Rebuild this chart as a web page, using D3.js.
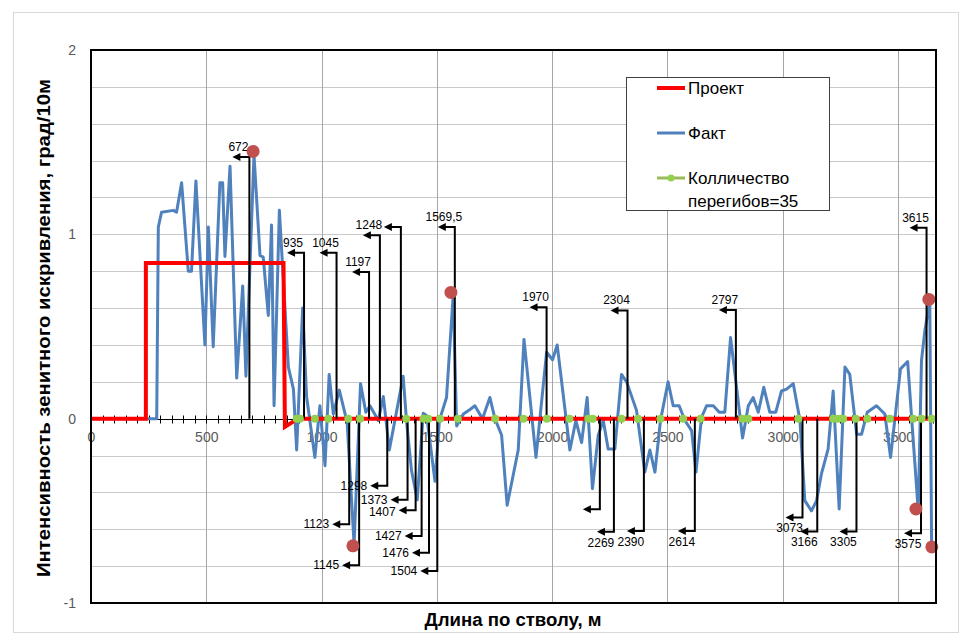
<!DOCTYPE html>
<html>
<head>
<meta charset="utf-8">
<script src="https://cdn.jsdelivr.net/npm/d3@7"></script>
<style>
body { margin: 0; background: #fff; }
text { font-family: "Liberation Sans", Arial, sans-serif; }
</style>
</head>
<body>
<svg id="chart" width="970" height="641"></svg>
<script>
'use strict';

// Проект (design curve)
const projDepth = [0, 238, 238, 835, 841, 897, 3665];
const projValue = [0, 0, 0.845, 0.845, -0.045, 0, 0];

// Факт (measured curve)
const factDepth = [0, 285, 292, 306, 357, 371, 393, 422, 436, 455, 494, 509, 530, 559, 571, 581, 603, 632, 658, 672,
	707, 733, 747, 769, 783, 794, 817, 856, 878, 892, 918, 935, 971, 993, 1015, 1033, 1051, 1077, 1111, 1141,
	1169, 1192, 1210, 1246, 1268, 1294, 1354, 1369, 1390, 1415, 1441, 1456, 1492, 1511, 1542, 1571, 1586, 1615, 1644, 1665,
	1698, 1730, 1752, 1781, 1805, 1853, 1878, 1930, 1976, 2002, 2022, 2077, 2103, 2128, 2152, 2175, 2200, 2222, 2243, 2272,
	2301, 2323, 2366, 2402, 2424, 2446, 2470, 2503, 2525, 2551, 2576, 2605, 2624, 2648, 2670, 2699, 2725, 2749, 2774, 2800,
	2826, 2851, 2872, 2894, 2918, 2944, 2970, 2995, 3017, 3046, 3075, 3096, 3125, 3147, 3168, 3197, 3219, 3245, 3270, 3291,
	3321, 3342, 3367, 3407, 3443, 3468, 3511, 3542, 3588, 3602, 3617, 3638, 3646];
const factValue = [0, 0, 1.04, 1.12, 1.13, 1.12, 1.28, 0.80, 0.80, 1.29, 0.40, 1.04, 0.39, 1.28, 1.28, 0.88, 1.37, 0.22, 0.72, 0.23,
	1.43, 0.885, 0.877, 0.56, 1.05, 0.07, 1.13, 0.28, 0.16, -0.17, 0.60, 0.12, -0.21, 0.07, -0.255, 0.24, 0.025, 0.155, -0.02, -0.68,
	0.19, 0.035, 0.07, -0.01, 0.12, -0.17, 0.23, -0.02, -0.28, -0.44, 0.03, 0.016, -0.34, -0.01, 0.115, 0.67, -0.04, 0.025, 0.05, 0.07,
	0, 0.115, 0, -0.09, -0.47, -0.17, 0.43, -0.21, 0.36, 0.32, 0.40, -0.17, -0.01, -0.13, 0.115, -0.38, -0.09, -0.01, -0.165, -0.165,
	0.24, 0.20, 0.045, -0.29, -0.17, -0.29, -0.01, 0.20, 0.07, 0.07, -0.01, -0.065, -0.29, 0.007, 0.07, 0.07, 0.035, 0.035, 0.44, 0.17,
	-0.105, 0.07, 0.115, 0.035, 0.17, 0.035, 0.035, 0.15, 0.16, 0.19, -0.01, -0.445, -0.5, -0.445, -0.30, -0.165, 0.15, -0.49, 0.28, 0.24,
	-0.085, -0.085, 0.035, 0.07, 0.025, -0.21, 0.27, 0.31, -0.5, 0.315, 0.48, 0.64, -0.70];

// Колличество перегибов (inflection points on zero line)
const bendDepth = [892, 906, 971, 1029, 1116, 1167, 1367, 1442, 1463, 1514, 1591, 1753, 1876, 1977, 2075, 2157, 2176,
	2301, 2373, 2470, 2568, 2644, 2826, 2851, 3068, 3219, 3241, 3262, 3317, 3367, 3465, 3566, 3602, 3646];

// extremes marked with red dots
const extremeDepth = [703, 1561, 1136, 3578, 3634, 3647];
const extremeValue = [1.45, 0.685, -0.69, -0.49, 0.647, -0.696];

// callouts above the zero line
const upDepth = [687, 924, 1065, 1206, 1253, 1344, 1578, 1976, 2327, 2797, 3624];
const upLevel = [1.42, 0.90, 0.90, 0.795, 0.995, 1.04, 1.04, 0.605, 0.587, 0.59, 1.036];
const upLabel = ['672', '935', '1045', '1197', '1248', '', '1569,5', '1970', '2304', '2797', '3615'];

// callouts below the zero line
const downDepth = [1120, 1163, 1285, 1373, 1408, 1434, 1466, 1502, 2207, 2268, 2398, 2619, 3086, 3150, 3320, 3600];
const downLevel = [-0.573, -0.795, -0.364, -0.44, -0.497, -0.636, -0.727, -0.826, -0.491, -0.614, -0.609, -0.609, -0.536, -0.612, -0.612, -0.622];
const downLabel = ['1123', '1145', '1298', '1373', '1407', '1427', '1476', '1504', '', '2269', '2390', '2614', '3073', '3166', '3305', '3575'];

const xTicks = [0, 500, 1000, 1500, 2000, 2500, 3000, 3500];
const yTicks = [-1, 0, 1, 2];
const legendNames = ['Проект', 'Факт', 'Колличество', 'перегибов=35'];

const plot = {left: 91, top: 50, right: 936, bottom: 603};
const svg = d3.select('#chart');

const x = d3.scaleLinear().domain([0, 3665]).range([plot.left, plot.right]);
const y = d3.scaleLinear().domain([-1, 2]).range([plot.bottom, plot.top]);

// outer chart frame
svg.append('rect')
	.attr('x', 13.5).attr('y', 12.5)
	.attr('width', 945).attr('height', 620)
	.attr('fill', '#fff')
	.attr('stroke', '#d9d9d9');

// grid
svg.append('g').selectAll('line')
	.data(d3.range(-5, 11).map(i => i / 5))
	.enter().append('line')
		.attr('x1', plot.left).attr('x2', plot.right)
		.attr('y1', d => Math.round(y(d)) + 0.5)
		.attr('y2', d => Math.round(y(d)) + 0.5)
		.attr('stroke', '#c9c9c9');
svg.append('g').selectAll('line')
	.data(xTicks.slice(1))
	.enter().append('line')
		.attr('x1', d => Math.round(x(d)) + 0.5)
		.attr('x2', d => Math.round(x(d)) + 0.5)
		.attr('y1', plot.top).attr('y2', plot.bottom)
		.attr('stroke', '#a6a6a6');

// x axis along zero line
const y0 = Math.round(y(0)) + 0.5;
svg.append('line')
	.attr('x1', plot.left).attr('x2', plot.right)
	.attr('y1', y0).attr('y2', y0)
	.attr('stroke', '#000');
svg.append('g').selectAll('line')
	.data(d3.range(0, 3665, 50))
	.enter().append('line')
		.attr('x1', d => Math.round(x(d)) + 0.5)
		.attr('x2', d => Math.round(x(d)) + 0.5)
		.attr('y1', y0 - 4).attr('y2', y0 + 4)
		.attr('stroke', '#000');

const xAxis = svg.append('g')
	.attr('transform', `translate(0,${y0 + 10})`)
	.call(d3.axisBottom(x).tickValues(xTicks).tickSize(0).tickPadding(0).tickFormat(d => String(d)));
xAxis.select('.domain').remove();
xAxis.selectAll('text')
	.attr('fill', '#595959')
	.style('font-size', '14px')
	.attr('dy', '0.9em');

const yAxis = svg.append('g')
	.attr('transform', `translate(${plot.left - 15},0)`)
	.call(d3.axisLeft(y).tickValues(yTicks).tickSize(0).tickPadding(0).tickFormat(d => String(d)));
yAxis.select('.domain').remove();
yAxis.selectAll('text')
	.attr('fill', '#595959')
	.style('font-size', '14px');

// series
const line = d3.line()
	.x(d => x(d[0]))
	.y(d => y(d[1]));

svg.append('path')
	.datum(d3.zip(factDepth, factValue))
	.attr('d', line)
	.attr('fill', 'none')
	.attr('stroke', '#4f81bd')
	.attr('stroke-width', 3)
	.attr('stroke-linejoin', 'round');

svg.append('path')
	.datum(d3.zip(projDepth, projValue))
	.attr('d', line)
	.attr('fill', 'none')
	.attr('stroke', '#ff0000')
	.attr('stroke-width', 4);

// callouts
const ARROW = 17;
const placed = [];
function overlaps(b) {
	return placed.some(p => b.x < p.x + p.width && p.x < b.x + b.width && b.y < p.y + p.height && p.y < b.y + b.height);
}
function callout(g, depth, level, label, below) {
	const lx = x(depth);
	const ay = y(level);
	const tip = lx - ARROW;
	g.append('path')
		.attr('d', `M${lx},${y(0)}V${ay}H${tip + 6}`)
		.attr('fill', 'none')
		.attr('stroke', '#000')
		.attr('stroke-width', 2);
	g.append('path')
		.attr('d', `M${tip},${ay}L${tip + 8},${ay - 4}L${tip + 8},${ay + 4}Z`)
		.attr('fill', '#000');
	if (!label) {
		return;
	}
	let t = g.append('text')
		.text(label)
		.style('font-size', '12px')
		.attr('fill', '#000');
	if (!below) {
		t.attr('x', lx - 11).attr('y', ay - 6).attr('text-anchor', 'middle');
	}
	else if (depth < 2000) {
		t.attr('x', tip - 3).attr('y', ay + 4).attr('text-anchor', 'end');
	}
	else {
		t.attr('x', lx - 13).attr('y', ay + 15).attr('text-anchor', 'middle');
	}
	// push a label down until it is clear of the ones already placed
	let box = t.node().getBBox();
	let shift = 0;
	while (overlaps({x: box.x, y: box.y + shift, width: box.width, height: box.height - 2}) && shift < 30) {
		shift += 1;
	}
	if (shift) {
		t.attr('y', +t.attr('y') + shift);
	}
	placed.push({x: box.x, y: box.y + shift, width: box.width, height: box.height - 2});
}
const calloutG = svg.append('g');
upDepth.forEach((d, i) => callout(calloutG, d, upLevel[i], upLabel[i], false));
d3.range(downDepth.length)
	.sort((a, b) => downLevel[b] - downLevel[a])
	.forEach(i => callout(calloutG, downDepth[i], downLevel[i], downLabel[i], true));

// inflection markers
svg.append('g').selectAll('circle')
	.data(bendDepth)
	.enter().append('circle')
		.attr('cx', d => x(d))
		.attr('cy', y(0))
		.attr('r', 4)
		.attr('fill', '#92d050');

// extremes
svg.append('g').selectAll('circle')
	.data(d3.zip(extremeDepth, extremeValue))
	.enter().append('circle')
		.attr('cx', d => x(d[0]))
		.attr('cy', d => y(d[1]))
		.attr('r', 6.5)
		.attr('fill', '#c0504d');

// plot frame
svg.append('rect')
	.attr('x', plot.left).attr('y', plot.top)
	.attr('width', plot.right - plot.left)
	.attr('height', plot.bottom - plot.top)
	.attr('fill', 'none')
	.attr('stroke', '#000')
	.attr('stroke-width', 2);

// axis titles
svg.append('text')
	.attr('transform', 'translate(50,328) rotate(-90)')
	.attr('text-anchor', 'middle')
	.attr('textLength', 498)
	.attr('lengthAdjust', 'spacingAndGlyphs')
	.style('font-size', '19px')
	.style('font-weight', 'bold')
	.text('Интенсивность зенитного искривления, град/10м');
svg.append('text')
	.attr('x', 513).attr('y', 626)
	.attr('text-anchor', 'middle')
	.attr('textLength', 177)
	.attr('lengthAdjust', 'spacingAndGlyphs')
	.style('font-size', '18px')
	.style('font-weight', 'bold')
	.text('Длина по стволу, м');

// legend
const legend = svg.append('g');
legend.append('rect')
	.attr('x', 626.5).attr('y', 77.5)
	.attr('width', 203).attr('height', 133)
	.attr('fill', '#fff')
	.attr('stroke', '#404040');
const legendRows = [
	{y: 88, colour: '#ff0000', width: 4, text: legendNames[0]},
	{y: 133, colour: '#4f81bd', width: 3, text: legendNames[1]},
	{y: 178, colour: '#9bbb59', width: 3, text: legendNames[2], dot: true},
];
legendRows.forEach(r => {
	legend.append('line')
		.attr('x1', 657).attr('x2', 685)
		.attr('y1', r.y).attr('y2', r.y)
		.attr('stroke', r.colour)
		.attr('stroke-width', r.width);
	if (r.dot) {
		legend.append('circle')
			.attr('cx', 671).attr('cy', r.y).attr('r', 3.5)
			.attr('fill', '#92d050');
	}
	legend.append('text')
		.attr('x', 688).attr('y', r.y + 6)
		.style('font-size', '17px')
		.text(r.text);
});
legend.append('text')
	.attr('x', 688).attr('y', 207)
	.style('font-size', '17px')
	.text(legendNames[3]);
</script>
</body>
</html>
